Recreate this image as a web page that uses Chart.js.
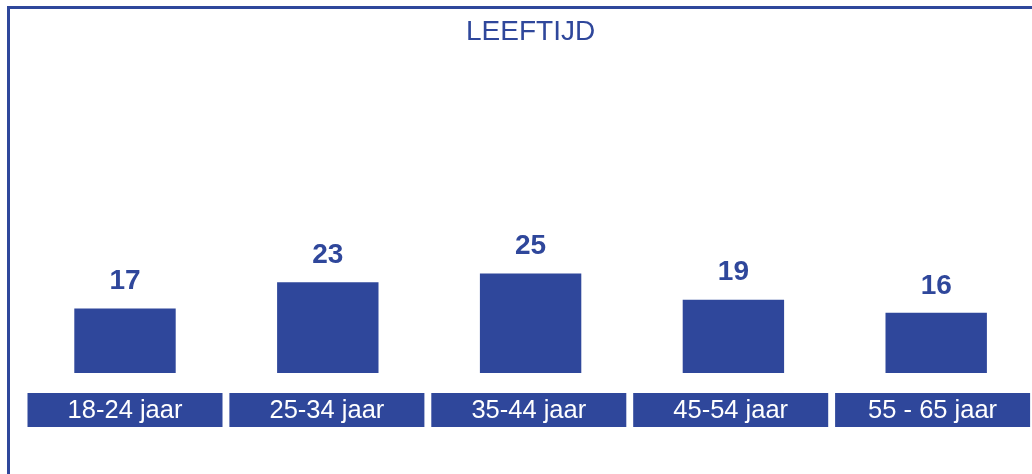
<!DOCTYPE html>
<html>
<head>
<meta charset="utf-8">
<title>LEEFTIJD</title>
<script src="https://cdn.jsdelivr.net/npm/chart.js@4.4.1/dist/chart.umd.min.js"></script>
<style>
  html, body { margin: 0; padding: 0; background: #fff; overflow: hidden; }
  #frame {
    position: absolute; left: 7px; top: 6px; width: 1040px; height: 480px;
    border-top: 3px solid #2F479B; border-left: 3px solid #2F479B;
  }
  #wrap { position: absolute; left: 0; top: 0; width: 1040px; height: 474px; }
</style>
</head>
<body>
<div id="frame"></div>
<div id="wrap"><canvas id="ageChart"></canvas></div>
<script>
// ─── DATA ───────────────────────────────────────────────────────
const categories = ["18-24 jaar", "25-34 jaar", "35-44 jaar", "45-54 jaar", "55 - 65 jaar"];
const values = [17, 23, 25, 19, 16];
const chartTitle = "LEEFTIJD";

const BLUE = "#2F479B";
const FONT = "'Liberation Sans', Arial, sans-serif";

// value labels above the bars
const valueLabels = {
  id: "valueLabels",
  afterDatasetsDraw(chart) {
    const ctx = chart.ctx;
    const meta = chart.getDatasetMeta(0);
    ctx.save();
    ctx.fillStyle = BLUE;
    ctx.font = "bold 28px " + FONT;
    ctx.textAlign = "center";
    ctx.textBaseline = "middle";
    meta.data.forEach((bar, i) => {
      ctx.fillText(String(values[i]), bar.x, bar.y - 27);
    });
    ctx.restore();
  },
};

// category labels in blue boxes under the bars
const categoryBoxes = {
  id: "categoryBoxes",
  afterDraw(chart) {
    const ctx = chart.ctx;
    const x = chart.scales.x;
    const top = chart.chartArea.bottom + 20;
    const h = 34;
    const w = 195;
    ctx.save();
    ctx.font = "25.5px " + FONT;
    ctx.textAlign = "center";
    ctx.textBaseline = "middle";
    categories.forEach((label, i) => {
      const cx = x.getPixelForValue(i) - i * 0.9;
      ctx.fillStyle = BLUE;
      ctx.fillRect(cx - w / 2, top, w, h);
      ctx.fillStyle = "#ffffff";
      ctx.fillText(label, cx, top + h / 2 + 1);
    });
    ctx.restore();
  },
};

new Chart(document.getElementById("ageChart"), {
  type: "bar",
  data: {
    labels: categories,
    datasets: [{
      data: values,
      backgroundColor: BLUE,
      borderWidth: 0,
      categoryPercentage: 1,
      barPercentage: 0.5,
    }],
  },
  options: {
    responsive: true,
    maintainAspectRatio: false,
    animation: false,
    layout: { padding: { top: 0, bottom: 101, left: 23.6, right: 2.4 } },
    plugins: {
      legend: { display: false },
      tooltip: { enabled: false },
      title: {
        display: true,
        text: chartTitle,
        color: BLUE,
        font: { family: FONT, size: 28, weight: "normal" },
        padding: { top: 15, bottom: 0 },
      },
    },
    scales: {
      x: { display: false },
      y: { display: false, min: 2.2, max: 76.6 },
    },
  },
  plugins: [valueLabels, categoryBoxes],
});
</script>
</body>
</html>
